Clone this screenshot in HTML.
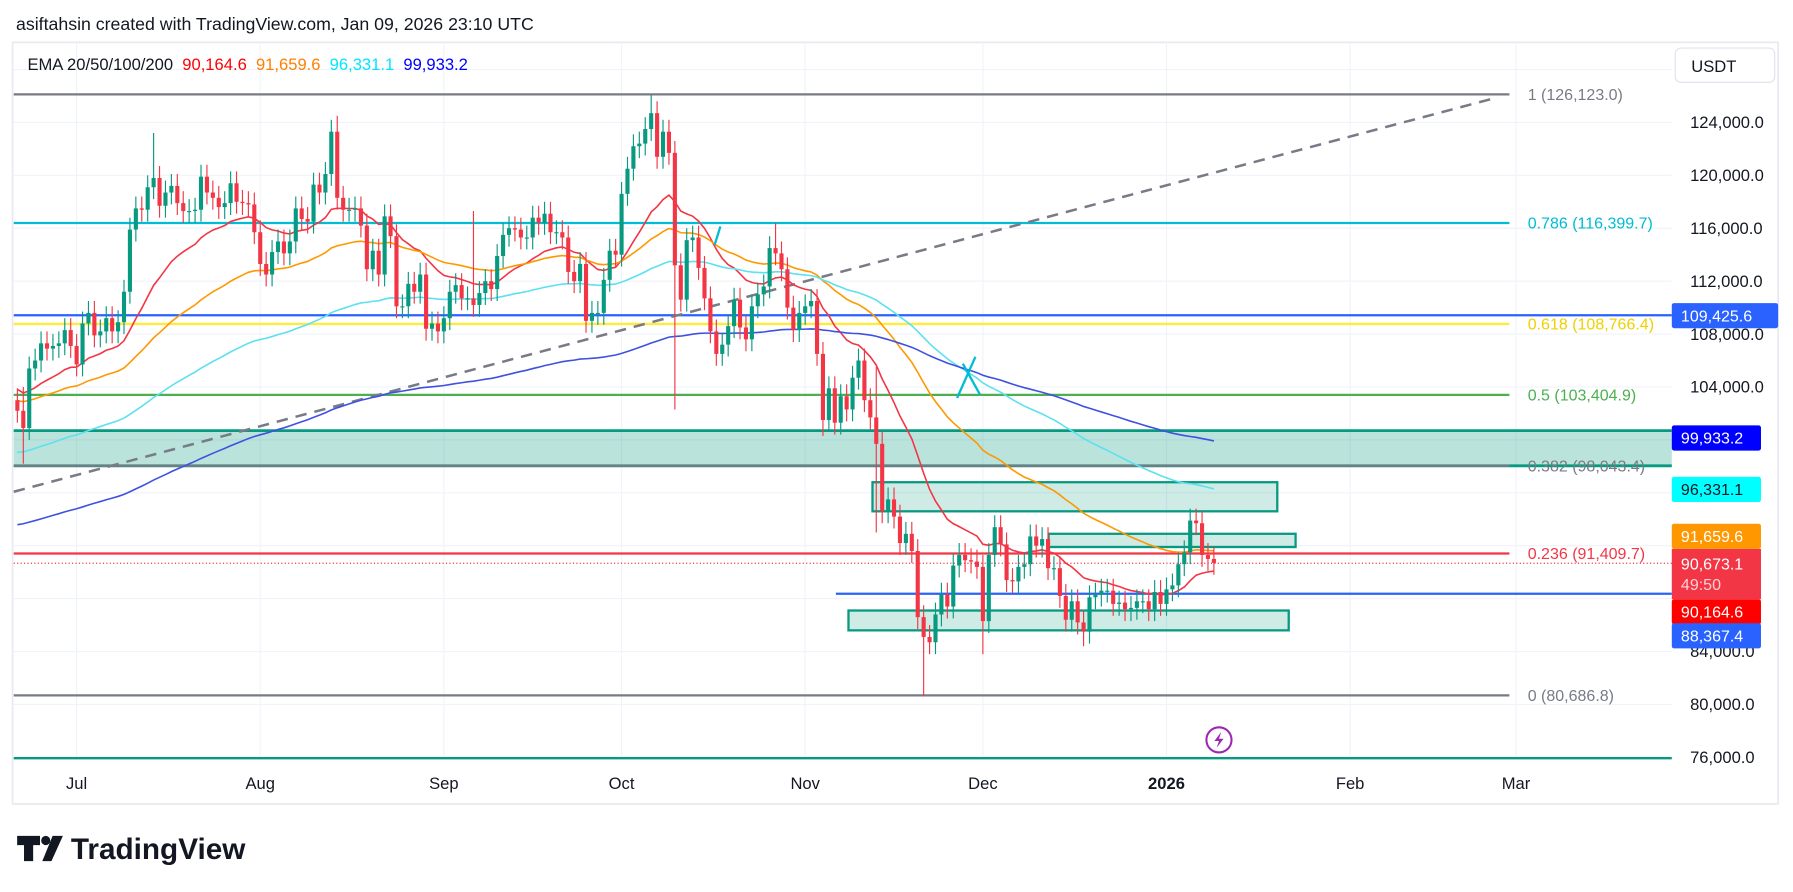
<!DOCTYPE html>
<html><head><meta charset="utf-8"><style>
html,body{margin:0;padding:0;background:#fff;}
svg{display:block;font-family:"Liberation Sans",sans-serif;}
</style></head><body>
<svg id="chart" width="1793" height="892" viewBox="0 0 1568 780" xmlns="http://www.w3.org/2000/svg">
<rect width="1568" height="780" fill="#fff"/>
<text x="14" y="26" font-size="15.5" fill="#131722">asiftahsin created with TradingView.com, Jan 09, 2026 23:10 UTC</text>
<rect x="11" y="37" width="1544" height="666" fill="none" stroke="#e8eaef" stroke-width="1.5"/>
<g id="grid"></g>
<g id="zones"></g>
<g id="ema"></g>
<g id="candles"></g>
<g id="over"></g>
<g id="axis"></g>
<text x="24" y="61" font-size="14.5" fill="#131722">EMA 20/50/100/200 <tspan fill="#ff0000" dx="4">90,164.6</tspan><tspan fill="#ff7f00" dx="8">91,659.6</tspan><tspan fill="#00e5ff" dx="8">96,331.1</tspan><tspan fill="#0000ff" dx="8">99,933.2</tspan></text>
<g><rect x="1465" y="42" width="87" height="30" rx="5" fill="#fff" stroke="#e0e3eb"/><text x="1479" y="63" font-size="14.5" fill="#131722">USDT</text></g>
<g>
<path d="M15 731h20v8h-6v14h-8v-14h-6z" fill="#131722"/><circle cx="40" cy="735" r="4" fill="#131722"/><path d="M46 731h9l-10 22h-8z" fill="#131722"/>
<text x="62" y="751" font-size="26" font-weight="bold" fill="#131722">TradingView</text></g>
<line x1="12" y1="663" x2="1462" y2="663" stroke="#089981" stroke-width="2"/>
<g><circle cx="1066" cy="647" r="11" fill="#fff" stroke="#9c27b0" stroke-width="1.8"/><path d="M1068 640l-6 8h4l-2 6 6-8h-4z" fill="#9c27b0"/></g>
</svg>
<script>
const closes=[102.2,100.9,105.4,106.0,107.3,106.9,107.1,107.3,108.3,107.1,
105.7,108.8,109.6,107.9,108.2,109.2,108.2,108.9,111.2,115.9,117.5,117.4,119.1,119.8,117.7,118.7,119.2,117.9,117.3,117.3,117.4,119.9,118.7,118.3,117.6,117.9,119.4,118.0,117.9,117.8,115.7,
113.3,112.5,114.2,115.0,114.1,115.0,117.5,116.7,116.5,119.3,118.7,120.1,123.3,118.3,117.4,117.4,117.5,116.2,112.9,114.3,112.5,116.9,115.4,110.1,110.1,111.8,111.2,112.5,108.4,108.8,108.2,
109.2,111.2,111.7,110.7,110.7,110.2,111.1,112.0,111.4,113.9,115.5,116.0,115.9,115.3,115.3,116.8,116.4,117.1,115.7,115.7,115.3,112.7,112.0,113.3,109.0,109.6,109.6,112.1,114.3,114.0,
118.6,120.5,122.2,122.4,123.5,124.7,121.4,123.3,121.7,113.2,110.6,115.1,115.3,113.0,110.7,108.2,106.5,107.2,108.6,110.6,108.5,107.6,110.1,111.0,111.6,114.5,114.1,112.9,110.0,108.3,109.6,
110.1,110.5,106.5,101.5,103.9,101.3,103.3,102.3,104.7,106.0,103.0,101.7,99.7,94.6,95.5,94.2,92.2,92.9,91.6,86.6,85.1,84.7,86.8,88.3,87.4,90.5,91.3,90.9,90.8,90.4,
86.3,91.3,93.4,92.1,89.4,89.3,90.4,90.6,92.7,92.0,92.5,90.3,90.3,88.2,86.4,87.8,86.2,85.5,88.1,88.3,88.6,88.6,87.6,87.7,87.2,87.3,87.8,87.8,87.2,88.5,87.6,
88.7,89.0,90.6,91.5,93.9,93.7,91.3,91.0,90.7];
const firstOpen=103.0;
const highOverrides={1:104.0,23:123.2,54:124.5,107:126.1,77:117.3,128:116.4,145:105.5};
const lowOverrides={1:98.2,111:102.3,136:100.3,145:93.0,153:80.6,163:83.8,180:84.4};
const emaPeriods=[20,50,100,200];
const emaSeeds=[104.0,103.0,99.0,93.5];
const emaColors=['#f23645','#ff9800','#5ce1f0','#3f51e0'];
const fibLevels=[1,0.786,0.618,0.5,0.382,0.236,0];
const fibPrices=[126123.0,116399.7,108766.4,103404.9,98043.4,91409.7,80686.8];
const fibColors=['#787b86','#00bcd4','#ffeb3b','#4caf50','#787b86','#f23645','#787b86'];
const yTicks=[124000,120000,116000,112000,108000,104000,84000,80000,76000];
const months=['Jul','Aug','Sep','Oct','Nov','Dec','2026','Feb','Mar'];
const monthDay=[10,41,72,102,133,163,194,225,253];
const NS='http://www.w3.org/2000/svg';
const X0=12,X1=1462;
const xDay=i=>67+(i-10)*5.18;
const yP=p=>616-(p-80000)*46.27/4000;
const yK=k=>yP(k*1000);
function mk(parent,tag,attrs){const e=document.createElementNS(NS,tag);for(const k in attrs)e.setAttribute(k,attrs[k]);document.getElementById(parent).appendChild(e);return e;}
function fmt(v){return v.toLocaleString('en-US',{minimumFractionDigits:1,maximumFractionDigits:1});}
for(let i=0;i<months.length;i++){const x=xDay(monthDay[i]);
 const g=mk('grid','line',{x1:x,y1:37,x2:x,y2:663,stroke:'#f0f3fa','stroke-width':1});
 
 
 const t=mk('axis','text',{x:x,y:690,'font-size':14.5,fill:'#131722','text-anchor':'middle','font-weight':months[i]==='2026'?'bold':'normal'});t.textContent=months[i];
 
 }
for(let p=76000;p<=128000;p+=4000){const y=yP(p);
 const g=mk('grid','line',{x1:X0,y1:y,x2:X1,y2:y,stroke:'#f0f3fa','stroke-width':1});
 
 }
for(const p of yTicks){const t=mk('axis','text',{x:1478,y:yP(p)+5,'font-size':14.5,fill:'#131722'});t.textContent=fmt(p);
 
 }
const zone=mk('zones','rect',{x:X0,y:yP(100700),width:X1-X0,height:yP(98043.4)-yP(100700),fill:'rgba(8,153,129,0.28)'});


for(const p of [100700,98043.4]){const l=mk('zones','line',{x1:X0,y1:yP(p),x2:X1,y2:yP(p),stroke:'#089981','stroke-width':2.5});
 
 }
const boxes=[[763,1117,96800,94600],[917,1133,92900,91900],[742,1127,87100,85600]];
for(const b of boxes){const r=mk('zones','rect',{x:b[0],y:yP(b[2]),width:b[1]-b[0],height:yP(b[3])-yP(b[2]),fill:'rgba(8,153,129,0.2)',stroke:'#089981','stroke-width':2});
 
 }
for(let i=0;i<fibLevels.length;i++){const y=yP(fibPrices[i]);
 const l=mk('zones','line',{x1:X0,y1:y,x2:1320,y2:y,stroke:fibColors[i],'stroke-width':2});
 
 
 const t=mk('over','text',{x:1336,y:y+5,'font-size':14,fill:fibColors[i]==='#ffeb3b'?'#f0d000':fibColors[i]});t.textContent=fibLevels[i]+' ('+fmt(fibPrices[i])+')';
 
 }
const hl1=mk('zones','line',{x1:X0,y1:yP(109425.6),x2:X1,y2:yP(109425.6),stroke:'#2962ff','stroke-width':2});


const hl2=mk('zones','line',{x1:731,y1:yP(88367.4),x2:X1,y2:yP(88367.4),stroke:'#2962ff','stroke-width':2});


const tl=mk('zones','line',{x1:X0,y1:430,x2:1310,y2:85,stroke:'#787b86','stroke-width':2.2,'stroke-dasharray':'10 7'});


const pl=mk('zones','line',{x1:X0,y1:yK(90.673),x2:X1,y2:yK(90.673),stroke:'#f23645','stroke-width':1,'stroke-dasharray':'1 2'});


for(let k=0;k<4;k++){let e=emaSeeds[k];const a=2/(emaPeriods[k]+1);let d='';
 for(let i=0;i<closes.length;i++){e=closes[i]*a+e*(1-a);d+=(i?'L':'M')+xDay(i).toFixed(1)+' '+yK(e).toFixed(1);}
 const p=mk('ema','path',{d:d,fill:'none',stroke:emaColors[k],'stroke-width':1.4});
 
 }
for(let i=0;i<closes.length;i++){const o=i?closes[i-1]:firstOpen,c=closes[i];
 const hi=highOverrides[i]!==undefined?highOverrides[i]:Math.max(o,c)+0.9;
 const lo=lowOverrides[i]!==undefined?lowOverrides[i]:Math.min(o,c)-0.9;
 const col=c>=o?'#089981':'#f23645';const x=xDay(i);
 const w=mk('candles','line',{x1:x,y1:yK(hi),x2:x,y2:yK(lo),stroke:col,'stroke-width':1});
 
 
 const top=yK(Math.max(o,c)),bot=yK(Math.min(o,c));
 const b=mk('candles','rect',{x:x-1.8,y:top,width:3.6,height:Math.max(1,bot-top),fill:col});
 
 }
const ax=mk('over','path',{d:'M837 348L853 312M842 318L857 345M625 214L630 198',stroke:'#00bcd4','stroke-width':2,fill:'none'});


const tags=[[109425.6,'#2962ff','#fff',1555,'109,425.6'],[99933.2,'#0000ff','#fff',1540,'99,933.2'],[96331.1,'#00ffff','#131722',1540,'96,331.1'],[91659.6,'#ff9800','#fff',1540,'91,659.6'],[90164.6,'#ff0000','#fff',1540,'90,164.6'],[88367.4,'#2962ff','#fff',1540,'88,367.4']];
const tagY=[276,383,428,469,535,556];
for(let i=0;i<tags.length;i++){const t=tags[i];const y=tagY[i];
 const r=mk('axis','rect',{x:1462,y:y-11,width:t[3]-1462,height:22,fill:t[1],rx:2});
 
 
 const tx=mk('axis','text',{x:1470,y:y+5,'font-size':14,fill:t[2]});tx.textContent=t[4];
 
 }
const cr=mk('axis','rect',{x:1462,y:480,width:78,height:44,fill:'#f23645'});


const ct=mk('axis','text',{x:1470,y:498,'font-size':14,fill:'#fff'});ct.textContent='90,673.1';


const cd=mk('axis','text',{x:1470,y:516,'font-size':14,fill:'#ffd0d4'});cd.textContent='49:50';


</script>
</body></html>
